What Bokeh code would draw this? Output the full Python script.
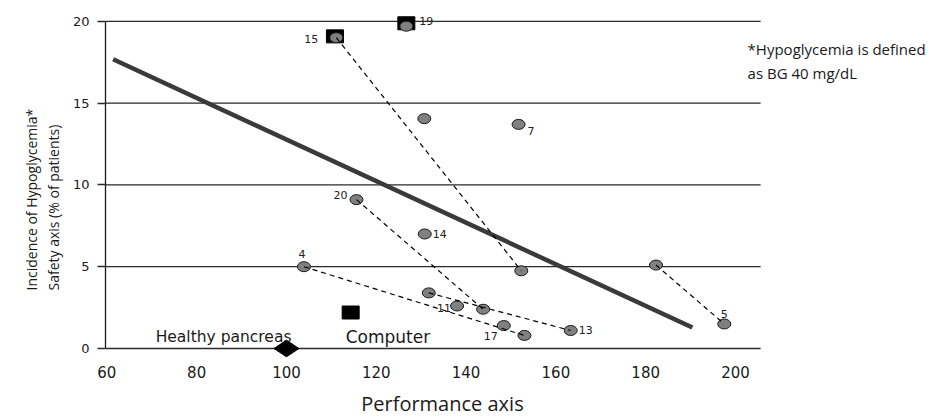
import numpy as np
from bokeh.plotting import figure
from bokeh.models import Label, FixedTicker, Range1d, Title
from bokeh.embed import file_html
from bokeh.resources import INLINE

# ---- data ----
perf = [126.7, 111.1, 130.7, 151.7, 115.6, 130.8, 103.9, 152.3,
        131.7, 138.0, 143.8, 148.4, 153.0, 163.3, 182.3, 197.5]
hypo = [19.7, 19.0, 14.05, 13.7, 9.1, 7.0, 5.0, 4.75,
        3.4, 2.6, 2.4, 1.4, 0.8, 1.1, 5.1, 1.5]
point_ids = ["19", "15", "", "7", "20", "14", "4", "",
             "", "11", "", "17", "", "13", "", "5"]
# pairs of points joined by dashed lines (indices into perf/hypo)
links = [(1, 7), (4, 10), (6, 12), (8, 13), (14, 15)]

fit_perf = [61.4, 190.4]
fit_hypo = [17.68, 1.28]

computer_perf = [114.3, 110.8, 126.7]
computer_hypo = [2.2, 19.08, 19.88]

pancreas_perf = [100]
pancreas_hypo = [0]

x_ticks = [60, 80, 100, 120, 140, 160, 180, 200]
y_ticks = [0, 5, 10, 15, 20]

# ---- layout / styles ----
X_LO, X_HI = 59.7, 205.6          # extent of the gridded plot area
VIEW_X_END = 245.66               # frame runs to the right edge (for footnote)
LABEL_STYLE = {
    "19": ("left", 13, 5), "15": ("right", -18, -1), "7": ("left", 9, -7),
    "20": ("right", -9, 5), "14": ("left", 8, 0), "4": ("center", -2, 13),
    "11": ("right", -6, -2), "17": ("right", -6, -10), "13": ("left", 8, 1),
    "5": ("center", 0, 10),
}
TICK_FONT = "DejaVu Sans"
TITLE_FONT = "Open Sans"
INK = "#1a1a1a"

p = figure(width=940, height=417,
           x_range=Range1d(X_LO, VIEW_X_END), y_range=Range1d(-0.55, 20.6),
           output_backend="svg", toolbar_location=None,
           min_border_left=105, min_border_right=0,
           min_border_top=11, min_border_bottom=60)
p.outline_line_color = None
p.background_fill_color = "white"
p.border_fill_color = "white"
p.xgrid.visible = False
p.ygrid.visible = False

xa = p.xaxis[0]
xa.ticker = FixedTicker(ticks=x_ticks)
xa.axis_line_color = None
xa.major_tick_line_color = None
xa.major_tick_out = 0
xa.minor_tick_line_color = None
xa.major_label_standoff = 8
xa.major_label_text_font = TICK_FONT
xa.major_label_text_font_size = "15px"
xa.major_label_text_color = INK

ya = p.yaxis[0]
ya.ticker = FixedTicker(ticks=y_ticks)
ya.bounds = (0, 20)
ya.axis_line_color = INK
ya.axis_line_width = 1.3
ya.major_tick_out = 8
ya.major_tick_in = 0
ya.major_tick_line_color = "#2a2a2a"
ya.major_tick_line_width = 1.3
ya.minor_tick_line_color = None
ya.major_label_standoff = 8
ya.major_label_text_font = TICK_FONT
ya.major_label_text_font_size = "13px"
ya.major_label_text_color = INK

# y title (two lines) as a side title, shifted to sit where the reference has it
p.add_layout(Title(text="Incidence of Hypoglycemia*\nSafety axis (% of patients)",
                   align="left", offset=67, standoff=12,
                   text_font=TITLE_FONT, text_font_size="14px",
                   text_font_style="normal", text_color=INK,
                   text_line_height=1.2), "left")

# x title placed in the lower side panel
p.add_layout(Label(x=134.74, y=-3.38, text="Performance axis",
                   text_align="center", text_baseline="middle",
                   text_font=TITLE_FONT, text_font_size="20px",
                   text_color=INK), "below")

# horizontal grid lines at the y ticks, over the gridded area only
p.segment(x0=[X_LO] * len(y_ticks), y0=y_ticks,
          x1=[X_HI] * len(y_ticks), y1=y_ticks,
          line_color="#2a2a2a", line_width=1.3)

# regression line
p.line(fit_perf, fit_hypo, line_color="#3a3a3a", line_width=4.5)

# computer squares (behind circles)
p.rect(computer_perf, computer_hypo, width=17, height=13,
       width_units="screen", height_units="screen",
       fill_color="black", line_color="black")

# healthy pancreas diamond
p.scatter(pancreas_perf, pancreas_hypo, marker="diamond", size=25,
          angle=np.pi / 2, fill_color="black", line_color="black")

# points
p.ellipse(perf, hypo, width=13, height=10,
          width_units="screen", height_units="screen",
          fill_color="#808080", line_color=INK, line_width=1)

# dashed links
x0 = [perf[a] for a, b in links]
y0 = [hypo[a] for a, b in links]
x1 = [perf[b] for a, b in links]
y1 = [hypo[b] for a, b in links]
p.segment(x0, y0, x1, y1, line_color="black", line_width=1.2, line_dash="5 4")

# point labels
for xv, yv, t in zip(perf, hypo, point_ids):
    if not t:
        continue
    al, dx, dy = LABEL_STYLE[t]
    p.add_layout(Label(x=xv, y=yv, text=t, x_offset=dx, y_offset=dy,
                       text_align=al, text_baseline="middle",
                       text_font=TICK_FONT, text_font_size="11px",
                       text_color="#222222"))

# key labels
p.add_layout(Label(x=pancreas_perf[0], y=pancreas_hypo[0], text="Healthy pancreas",
                   x_offset=5, y_offset=12, text_align="right",
                   text_baseline="alphabetic", text_font=TICK_FONT,
                   text_font_size="15.5px", text_color=INK))
p.add_layout(Label(x=computer_perf[0], y=0, text="Computer",
                   x_offset=-5, y_offset=12, text_align="left",
                   text_baseline="alphabetic", text_font=TICK_FONT,
                   text_font_size="17px", text_color=INK))

# footnote
p.add_layout(Label(x=202.7, y=18.33, text="*Hypoglycemia is defined",
                   text_align="left", text_baseline="middle",
                   text_font=TITLE_FONT, text_font_size="15px", text_color=INK))
p.add_layout(Label(x=202.7, y=16.86, text="as BG 40 mg/dL",
                   text_align="left", text_baseline="middle",
                   text_font=TITLE_FONT, text_font_size="15px", text_color=INK))

open("out.html", "w").write(file_html(p, INLINE))
